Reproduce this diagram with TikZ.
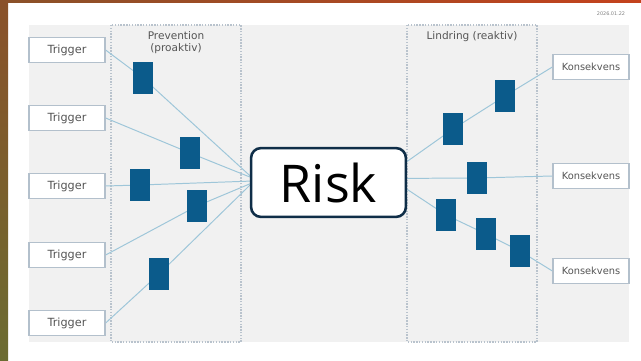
\documentclass[tikz,border=0pt]{standalone}
\usepackage{fontspec}
\setmainfont{DejaVu Sans}
\newfontfamily\riskfont{Open Sans}
\usetikzlibrary{backgrounds}
\definecolor{panelgray}{HTML}{F1F1F1}
\definecolor{boxline}{HTML}{B3C0CC}
\definecolor{zoneline}{HTML}{B9C3CD}
\definecolor{linkblue}{HTML}{9EC6D9}
\definecolor{barrierblue}{HTML}{0B5B8B}
\definecolor{riskline}{HTML}{0F2E48}
\definecolor{labelgray}{HTML}{555555}
\definecolor{stripbrown}{HTML}{8A5129}
\definecolor{stripolive}{HTML}{6B6C31}
\definecolor{barred}{HTML}{C4421D}
\tikzset{
	endbox/.style={draw=boxline, line width=0.9pt, fill=white, minimum width=1.9cm, minimum height=0.63cm, inner sep=0pt, text=labelgray},
	barrier/.style={fill=barrierblue, minimum width=0.52cm, minimum height=0.8cm, inner sep=0pt},
	link/.style={linkblue, line width=0.7pt},
	zone/.style={draw=zoneline, line width=0.8pt, dash pattern=on 1pt off 1pt},
	zonelabel/.style={text=labelgray, font=\fontsize{7.5}{8.5}\selectfont, align=center, inner sep=0pt},
}
\begin{document}
\begin{tikzpicture}[x=0.025cm, y=-0.025cm]
	\useasboundingbox (0,0) rectangle (641,361);
	\begin{scope}[on background layer]
		\shade[top color=stripbrown, bottom color=stripolive] (0,0) rectangle (8,361);
		\shade[left color=stripbrown, right color=barred] (0,0) rectangle (641,3);
		\fill[panelgray] (29,25) rectangle (629,342);
		\draw[zone] (111,25) rectangle (241,342);
		\draw[zone] (407,25) rectangle (537,342);
	\end{scope}
	\node[zonelabel] (prevlabel) at (176,43) {Prevention\\(proaktiv)};
	\node[zonelabel] (mitlabel) at (472,37) {Lindring (reaktiv)};
	\node[font=\fontsize{3.5}{4}\selectfont, text=gray] (date) at (611,14) {2026.01.22};
	\foreach \y [count=\i] in {50,118,186,255,323}
		\node[endbox, font=\fontsize{8}{9}\selectfont] (t\i) at (67,\y) {Trigger};
	\foreach \y [count=\i] in {67,176,271}
		\node[endbox, font=\fontsize{7}{8}\selectfont] (k\i) at (591,\y) {Konsekvens};
	\node[barrier] (p1) at (143,78) {};
	\node[barrier] (p2) at (190,153) {};
	\node[barrier] (p3) at (140,185) {};
	\node[barrier] (p4) at (197,206) {};
	\node[barrier] (p5) at (159,274) {};
	\node[barrier] (l1) at (453,129) {};
	\node[barrier] (l2) at (505,96) {};
	\node[barrier] (l3) at (477,178) {};
	\node[barrier] (l4) at (446,215) {};
	\node[barrier] (l5) at (486,234) {};
	\node[barrier] (l6) at (520,251) {};
	\node[draw=riskline, line width=1.8pt, rounded corners=7pt, fill=white, minimum width=3.87cm, minimum height=1.72cm, inner sep=0pt, font=\riskfont\fontsize{37}{42}\selectfont] (risk) at (328.5,182.5) {Risk};
	\begin{scope}[on background layer]
		\draw[link] (t1.east) -- (p1.center) -- (risk.175);
		\draw[link] (t2.east) -- (p2.center) -- (risk.176);
		\draw[link] (t3.east) -- (p3.center) -- (risk.179);
		\draw[link] (t4.east) -- (p4.center) -- (risk.181);
		\draw[link] (t5.east) -- (p5.center) -- (risk.182);
		\draw[link] (risk.15) -- (l1.center) -- (l2.center) -- (k1.west);
		\draw[link] (risk.3) -- (l3.center) -- (k2.west);
		\draw[link] (risk.-5) -- (l4.center) -- (l5.center) -- (l6.center) -- (k3.west);
	\end{scope}
\end{tikzpicture}
\end{document}
